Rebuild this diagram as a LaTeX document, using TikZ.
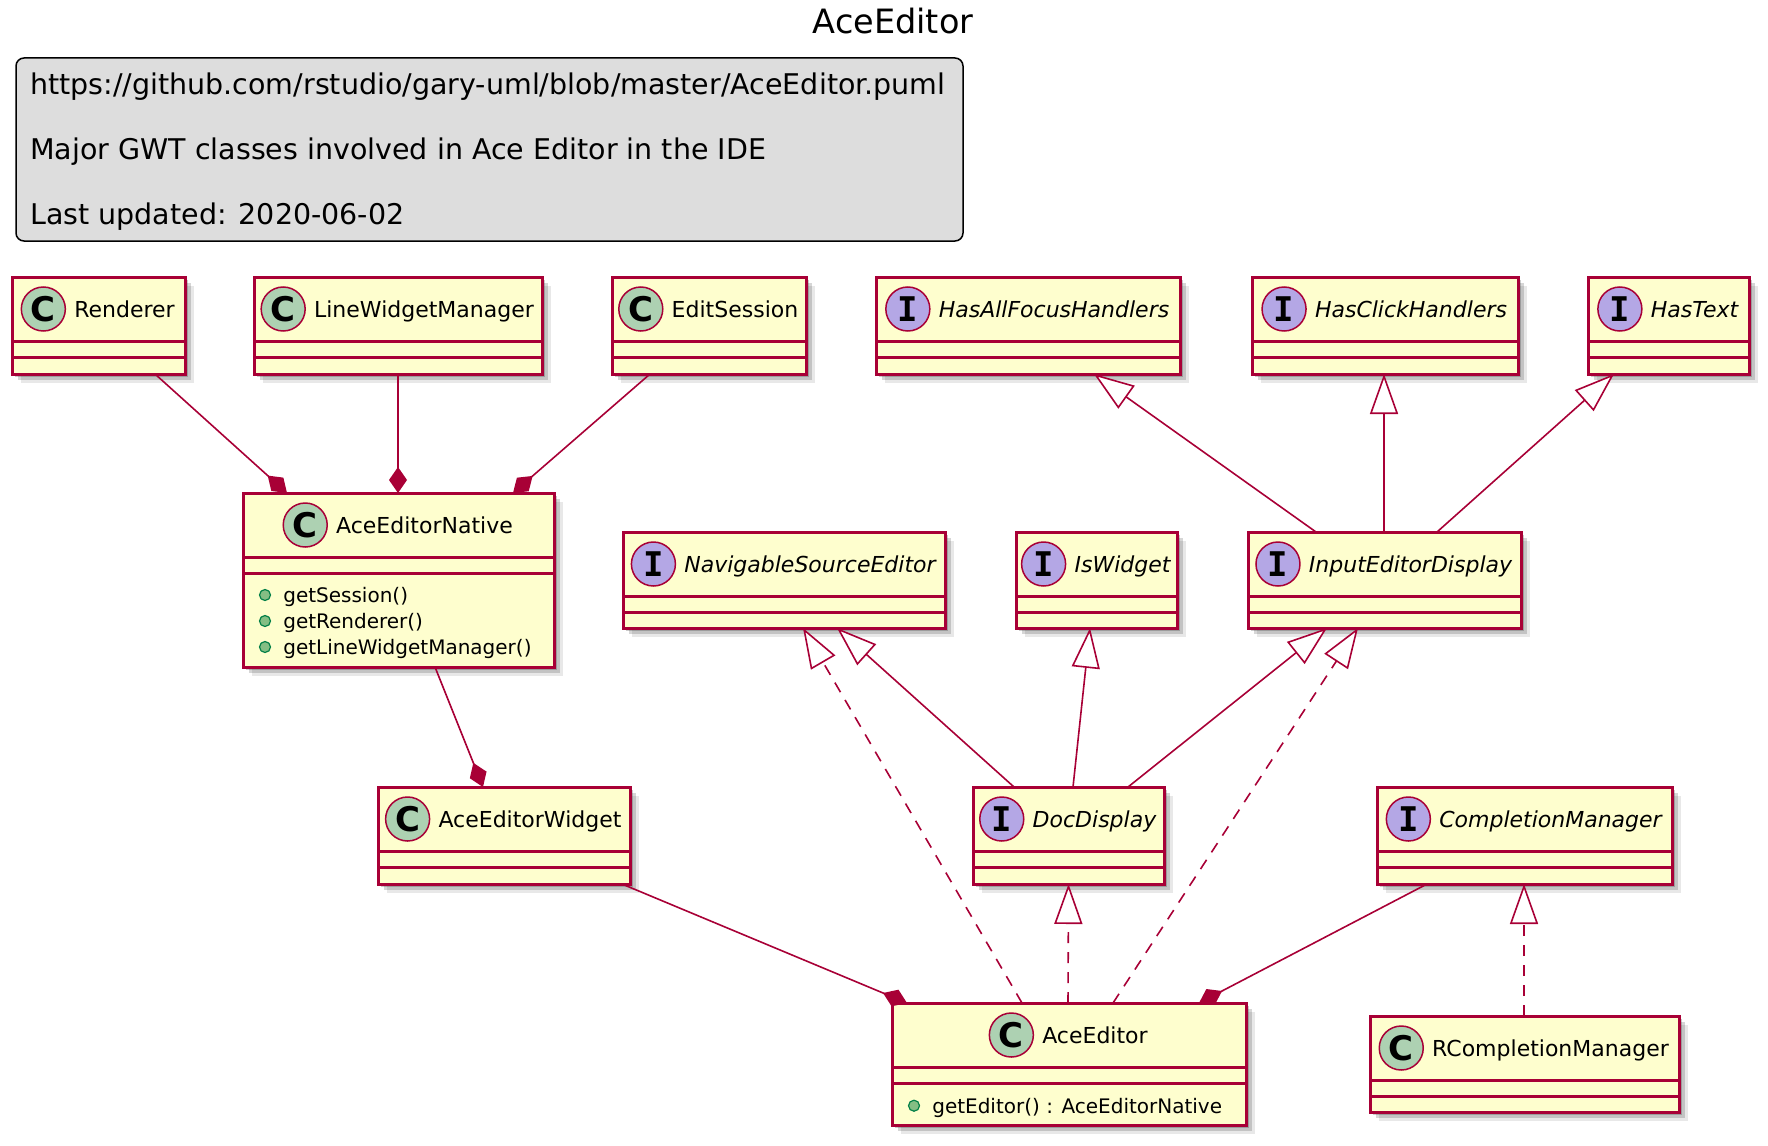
\documentclass[tikz,border=0pt]{standalone}
\usepackage{fontspec}
\setmainfont{DejaVu Sans}
\newfontfamily\spotfont{DejaVu Sans Mono}
\usepackage{tikz}
\usetikzlibrary{positioning,arrows.meta,shadows}
\definecolor{umlfill}{HTML}{FEFECE}
\definecolor{umlred}{HTML}{A80036}
\definecolor{circC}{HTML}{ADD1B2}
\definecolor{circI}{HTML}{B4A7E5}
\definecolor{notegray}{HTML}{DDDDDD}
\definecolor{pubfill}{HTML}{84BE84}
\definecolor{pubdraw}{HTML}{038048}
\tikzset{
  umlbox/.style={draw=umlred, fill=umlfill, line width=3pt, inner sep=0pt, outer sep=0pt,
    drop shadow={shadow xshift=3pt, shadow yshift=-3pt, fill=black, opacity=.2},
    drop shadow={shadow xshift=6pt, shadow yshift=-6pt, fill=black, opacity=.16},
    drop shadow={shadow xshift=9pt, shadow yshift=-9pt, fill=black, opacity=.09}},
  sepline/.style={draw=umlred, line width=3pt},
  cname/.style={inner sep=0pt, text height=16pt, text depth=0pt, font=\fontsize{22pt}{26pt}\selectfont},
  iname/.style={cname, font=\fontsize{22pt}{26pt}\selectfont\itshape},
  spotC/.style={circle, draw=umlred, line width=1.5pt, fill=circC, minimum size=44pt, inner sep=0pt,
    font=\fontsize{34pt}{34pt}\selectfont\bfseries},
  spotI/.style={spotC, fill=circI, font=\fontsize{34pt}{34pt}\selectfont\spotfont\bfseries},
  pubdot/.style={circle, draw=pubdraw, fill=pubfill, line width=1.2pt, minimum size=11pt, inner sep=0pt},
  mname/.style={inner sep=0pt, anchor=west, text height=14.6pt, text depth=0pt, font=\fontsize{20pt}{24pt}\selectfont},
  notebox/.style={draw=black, fill=notegray, line width=1.5pt, rounded corners=8pt, inner sep=0pt, outer sep=0pt},
  notetext/.style={inner sep=0pt, anchor=base west, font=\fontsize{28.5pt}{34pt}\selectfont},
  titletext/.style={inner sep=0pt, anchor=base, font=\fontsize{33.5pt}{40pt}\selectfont},
  comp/.style={draw=umlred, line width=1.6pt, -{Diamond[length=26pt, width=18pt]}},
  inher/.style={draw=umlred, line width=1.6pt, -{Triangle[open, length=40pt, width=28pt, fill=white]}},
  realiz/.style={inher, dash pattern=on 11pt off 9pt}
}
% name, spot letter, name style, label, top left, width, height
\newcommand{\umlclass}[7]{%
  \node[umlbox, anchor=north west, minimum width=#6pt, minimum height=#7pt] (#1) at #5 {};
  \draw[sepline] ([yshift=-64pt]#1.north west) -- ([yshift=-64pt]#1.north east);
  \draw[sepline] ([yshift=-80pt]#1.north west) -- ([yshift=-80pt]#1.north east);
  \node[#3, xshift=26pt] (#1-name) at ([yshift=-32pt]#1.north) {#4};
  \node[spot#2, left=8pt of #1-name] (#1-spot) {#2};
}
% box, row, y offset, text
\newcommand{\umlmethod}[4]{%
  \node[pubdot] (#1-dot#2) at ([xshift=22pt, yshift=-#3pt]#1.north west) {};
  \node[mname, right=12pt of #1-dot#2] (#1-m#2) {#4};
}
\begin{document}
\begin{tikzpicture}[x=1pt, y=-1pt]
\useasboundingbox (0,0) rectangle (1768,1145);
\node[titletext] (title) at (893,34) {AceEditor};
\node[notebox, anchor=north west, minimum width=947pt, minimum height=183pt] (legend) at (16,58) {};
\node[notetext] (legend-l1) at ([xshift=14pt, yshift=-37pt]legend.north west) {https://github.com/rstudio/gary-uml/blob/master/AceEditor.puml};
\node[notetext] (legend-l2) at ([xshift=14pt, yshift=-101.5pt]legend.north west) {Major GWT classes involved in Ace Editor in the IDE};
\node[notetext] (legend-l3) at ([xshift=14pt, yshift=-166pt]legend.north west) {Last updated: 2020-06-02};

% top row
\umlclass{ren}{C}{cname}{Renderer}{(12,277)}{173}{97}
\umlclass{lwm}{C}{cname}{LineWidgetManager}{(254,277)}{288}{97}
\umlclass{eds}{C}{cname}{EditSession}{(612,277)}{194}{97}
\umlclass{hafh}{I}{iname}{HasAllFocusHandlers}{(876,277)}{304}{97}
\umlclass{hch}{I}{iname}{HasClickHandlers}{(1252,277)}{266}{97}
\umlclass{htx}{I}{iname}{HasText}{(1588,277)}{161}{97}

% second row
\umlclass{nat}{C}{cname}{AceEditorNative}{(243,493)}{311}{174}
\umlmethod{nat}{1}{102}{getSession()}
\umlmethod{nat}{2}{128}{getRenderer()}
\umlmethod{nat}{3}{154}{getLineWidgetManager()}
\umlclass{nse}{I}{iname}{NavigableSourceEditor}{(623,532)}{322}{96}
\umlclass{isw}{I}{iname}{IsWidget}{(1016,532)}{161}{96}
\umlclass{ied}{I}{iname}{InputEditorDisplay}{(1248,532)}{273}{96}

% third row
\umlclass{aew}{C}{cname}{AceEditorWidget}{(378,787)}{252}{97}
\umlclass{doc}{I}{iname}{DocDisplay}{(973,787)}{191}{97}
\umlclass{cmg}{I}{iname}{CompletionManager}{(1377,787)}{295}{97}

% bottom row
\umlclass{ace}{C}{cname}{AceEditor}{(892,1003)}{354}{122}
\umlmethod{ace}{1}{102.7}{getEditor() : AceEditorNative}
\umlclass{rcm}{C}{cname}{RCompletionManager}{(1370,1016)}{309}{96}

% composition
\draw[comp] ([xshift=143pt]ren.south west) -- ([xshift=44pt]nat.north west);
\draw[comp] ([xshift=144pt]lwm.south west) -- ([xshift=155pt]nat.north west);
\draw[comp] ([xshift=38pt]eds.south west) -- ([xshift=270pt]nat.north west);
\draw[comp] ([xshift=192pt]nat.south west) -- ([xshift=105pt]aew.north west);
\draw[comp] ([xshift=244pt]aew.south west) -- ([xshift=15pt]ace.north west);
\draw[comp] ([xshift=50pt]cmg.south west) -- ([xshift=307pt]ace.north west);

% extension
\draw[inher] ([xshift=68pt]ied.north west) -- ([xshift=218pt]hafh.south west);
\draw[inher] ([xshift=136pt]ied.north west) -- ([xshift=132pt]hch.south west);
\draw[inher] ([xshift=189pt]ied.north west) -- ([xshift=26pt]htx.south west);
\draw[inher] ([xshift=41pt]doc.north west) -- ([xshift=214pt]nse.south west);
\draw[inher] ([xshift=100pt]doc.north west) -- ([xshift=74pt]isw.south west);
\draw[inher] ([xshift=155pt]doc.north west) -- ([xshift=79pt]ied.south west);

% implementation
\draw[realiz] ([xshift=130pt]ace.north west) -- ([xshift=180pt]nse.south west);
\draw[realiz] ([xshift=176pt]ace.north west) -- ([xshift=95.5pt]doc.south west);
\draw[realiz] ([xshift=221pt]ace.north west) -- ([xshift=110pt]ied.south west);
\draw[realiz] ([xshift=154pt]rcm.north west) -- ([xshift=147pt]cmg.south west);
\end{tikzpicture}
\end{document}
